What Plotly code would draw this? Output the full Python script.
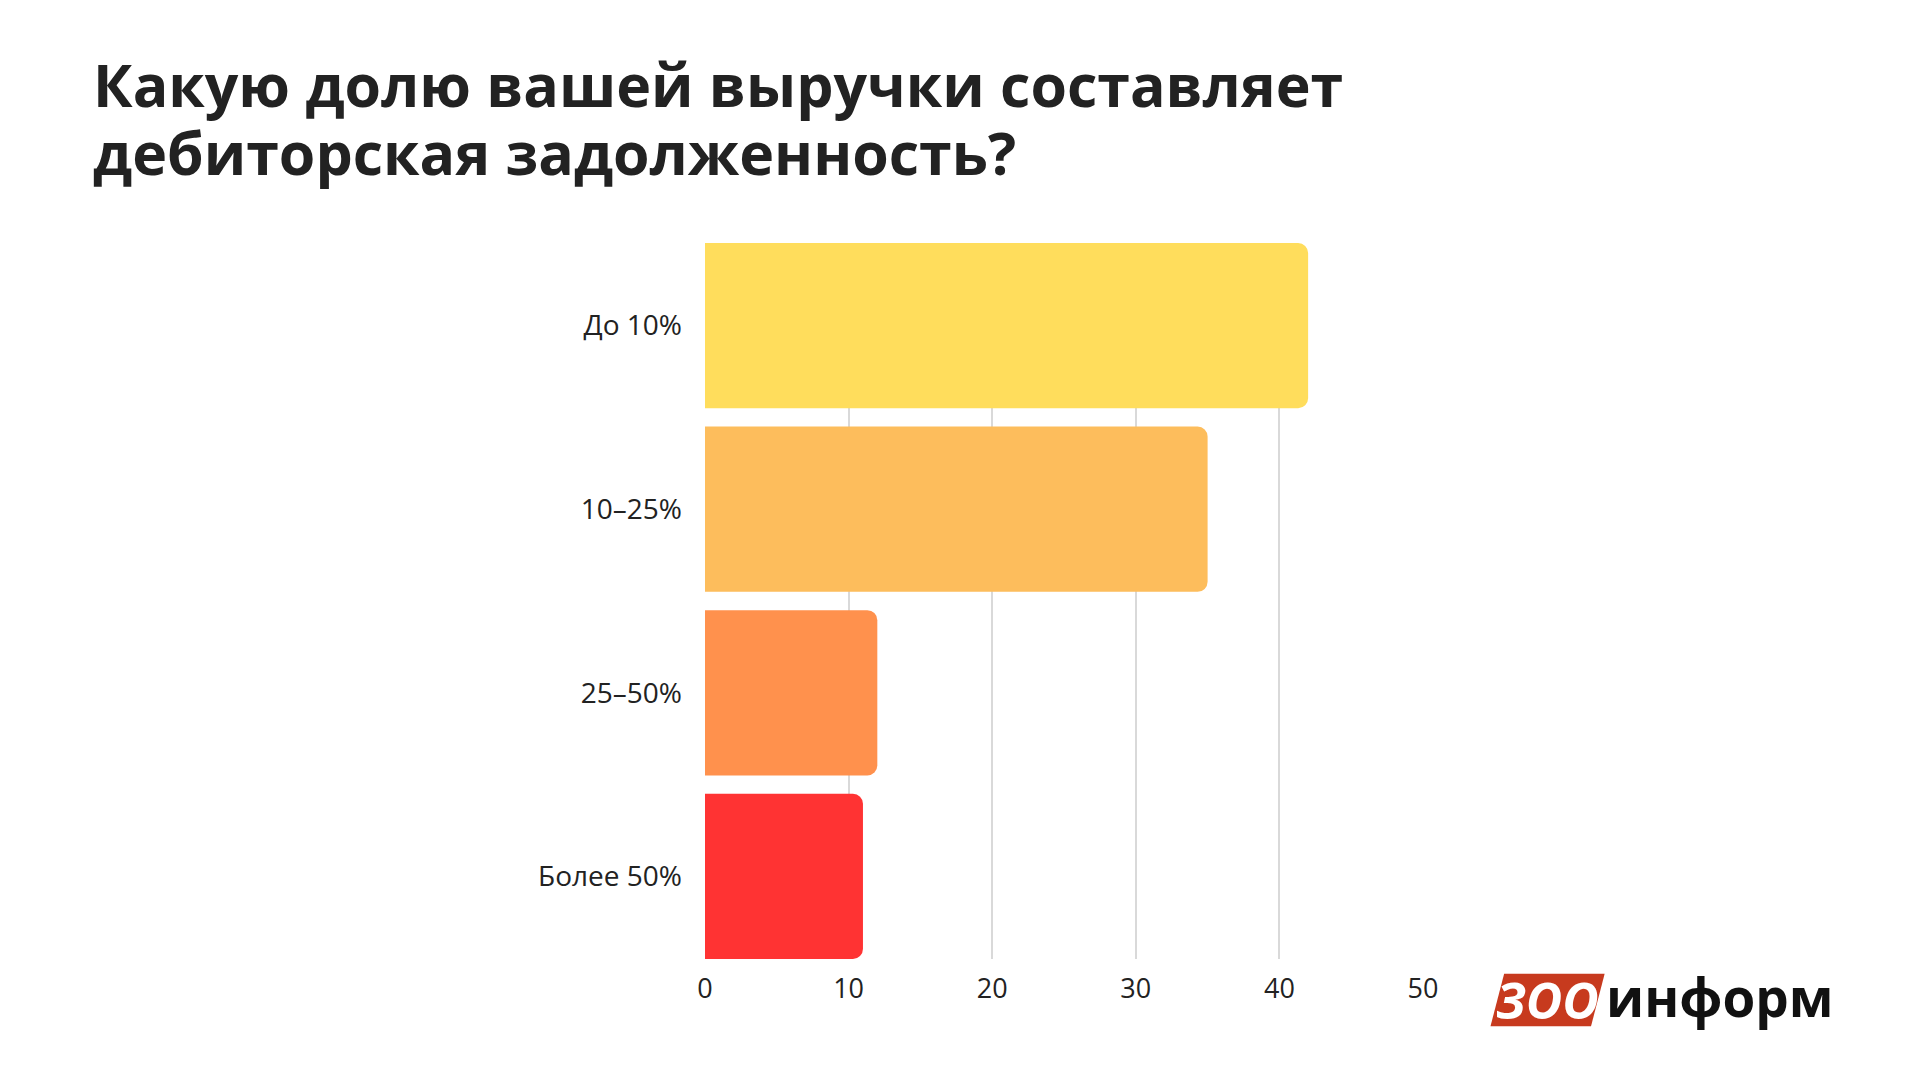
import plotly.graph_objects as go

# survey answers, top to bottom
categories = ["До 10%", "10–25%", "25–50%", "Более 50%"]
values = [42, 35, 12, 11]
colors = ["#FFDD5C", "#FDBD5C", "#FF914D", "#FF3333"]
x_ticks = [0, 10, 20, 30, 40, 50]
title_lines = ["Какую долю вашей выручки составляет", "дебиторская задолженность?"]

fig = go.Figure(go.Bar(
    x=values, y=categories, orientation="h",
    marker=dict(color=colors, line=dict(width=0)),
    hoverinfo="skip",
))

fig.update_layout(
    width=1920, height=1080,
    paper_bgcolor="white", plot_bgcolor="white",
    font=dict(family="Open Sans", size=28, color="#222"),
    margin=dict(l=697, r=505, t=235, b=129),
    bargap=0.1, barcornerradius=10,
    showlegend=False,
    xaxis=dict(range=[0, 50], tickvals=x_ticks, showgrid=True, gridcolor="#D9D9D9",
               gridwidth=1.5, zeroline=False, ticks="", showline=False, ticklabelstandoff=11,
               tickfont=dict(size=27)),
    yaxis=dict(range=[3.45, -0.45], ticks="", showline=False, ticklabelstandoff=22),
)

# title, two lines placed separately for tighter leading
for i, line in enumerate(title_lines):
    fig.add_annotation(text=line, xref="paper", yref="paper", x=-0.855, y=1.222 - 0.095 * i,
                       xanchor="left", yanchor="middle", showarrow=False,
                       font=dict(family="Open Sans", size=59, color="#222", weight="bold"))

# logo
fig.add_shape(type="path", xref="paper", yref="paper",
              path="M 1.094 -0.094 L 1.234 -0.094 L 1.253 -0.0205 L 1.113 -0.0205 Z",
              fillcolor="#C73A1E", line=dict(width=0))
fig.add_annotation(text="<i>ЗОО</i>", xref="paper", yref="paper", x=1.174, y=-0.057,
                   xanchor="center", yanchor="middle",
                   showarrow=False, font=dict(family="Open Sans", size=50, color="white", weight="bold"))
fig.add_annotation(text="информ", xref="paper", yref="paper", x=1.252, y=-0.052,
                   xanchor="left", yanchor="middle",
                   showarrow=False, font=dict(family="Open Sans", size=53, color="#111", weight="bold"))

fig.write_html("out.html")
